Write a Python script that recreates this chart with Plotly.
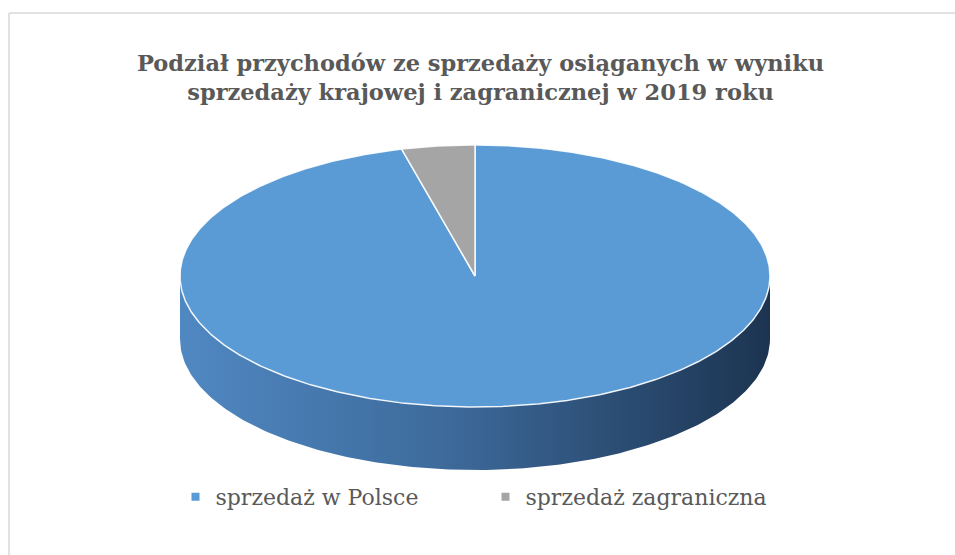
import numpy as np
import plotly.graph_objects as go

# ---- data ----
categories = ["sprzedaż w Polsce", "sprzedaż zagraniczna"]
values = [96, 4]
colors = ["#5b9bd5", "#a5a5a5"]
title_lines = ["Podział przychodów ze sprzedaży osiąganych w wyniku",
               "sprzedaży krajowej i zagranicznej w 2019 roku"]

# ---- geometry (pixel-like data units) ----
W, H = 955, 555
cx, cy = 475, 276
a, b = 295, 131
depth = 63

def pt(theta_deg, dy=0.0):
    t = np.radians(theta_deg)
    return cx + a * np.sin(t), cy - b * np.cos(t) + dy

total = float(sum(values))
fig = go.Figure()

# side wall (front visible half)
th = np.linspace(90, 270, 200)
xt, yt = pt(th)
xb, yb = pt(th[::-1], depth)
fig.add_trace(go.Scatter(
    x=np.concatenate([xt, xb]), y=np.concatenate([yt, yb]),
    mode="lines", line=dict(width=0), fill="toself",
    fillgradient=dict(type="horizontal",
                      colorscale=[[0, "#5088c2"], [0.45, "#3d6a9b"], [1, "#1c3451"]]),
    hoverinfo="skip", showlegend=False))

spans = [v / total * 360 for v in values]
bounds = [(0.0, spans[0]), (spans[0], 360.0)]
for (t0, t1), col in zip(bounds, colors):
    thv = np.linspace(t0, t1, max(int((t1 - t0) * 2), 8))
    x, y = pt(thv)
    fig.add_trace(go.Scatter(
        x=np.concatenate([[cx], x, [cx]]), y=np.concatenate([[cy], y, [cy]]),
        mode="lines", line=dict(color="rgba(255,255,255,0.9)", width=1.5),
        fill="toself", fillcolor=col, hoverinfo="skip", showlegend=False))

# legend entries
for name, col in zip(categories, colors):
    fig.add_trace(go.Scatter(x=[None], y=[None], mode="markers", name=name,
                             marker=dict(symbol="square", size=8, color=col)))

fig.add_annotation(xref="paper", yref="paper", x=0.503, y=1 - 77 / H,
                   text="<br>".join("<b>%s</b>" % t for t in title_lines), showarrow=False,
                   font=dict(family="DejaVu Serif", size=22.5, color="#595959"),
                   xanchor="center", yanchor="middle", align="center")

# chart frame
fig.add_shape(type="line", xref="paper", yref="paper", x0=9 / W, x1=1.01, y0=1 - 13 / H, y1=1 - 13 / H,
              line=dict(color="#d9d9d9", width=1.5))
fig.add_shape(type="line", xref="paper", yref="paper", x0=9 / W, x1=9 / W, y0=-0.01, y1=1 - 13 / H,
              line=dict(color="#d9d9d9", width=1.5))

fig.update_layout(
    width=W, height=H, margin=dict(l=0, r=0, t=0, b=0),
    paper_bgcolor="white", plot_bgcolor="white",
    xaxis=dict(range=[0, W], visible=False, fixedrange=True),
    yaxis=dict(range=[H, 0], visible=False, fixedrange=True),
    showlegend=True,
    legend=dict(orientation="h", x=0.5 + 8 / W, xanchor="center", y=1 - 497 / H, yanchor="middle",
                font=dict(family="DejaVu Serif", size=22, color="#595959"),
                itemwidth=30, entrywidth=265, entrywidthmode="pixels",
                tracegroupgap=0, bgcolor="rgba(0,0,0,0)"),
)
fig.write_html("out.html")
